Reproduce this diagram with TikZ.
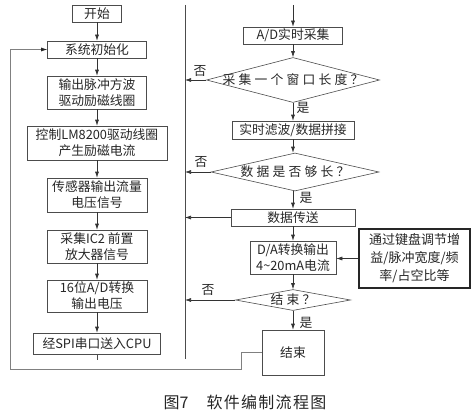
\documentclass[tikz,border=0pt]{standalone}
\usepackage{fontspec}
\newfontfamily\cjk{Noto Sans CJK SC}
\newfontfamily\cjkw{Noto Sans CJK SC}[LetterSpace=25]
\usetikzlibrary{shapes.geometric,arrows.meta}
\begin{document}
\begin{tikzpicture}[x=1pt,y=-1pt,
  font=\cjk\fontsize{12.8}{16}\selectfont,
  box/.style={draw=black!70, line width=0.6pt, rectangle, align=center, inner sep=1pt, text=black!85},
  dia/.style={draw=black!70, line width=0.6pt, diamond, aspect=1, inner sep=0pt, text=black!85},
  arr/.style={draw=black!80, line width=0.6pt, -{Latex[length=6pt,width=4pt]}},
  ln/.style={draw=black!70, line width=0.6pt},
  loopln/.style={draw=black!50, line width=0.6pt, -{Latex[length=6pt,width=4pt,fill=black!85,color=black!85]}},
  lbl/.style={inner sep=0pt, text=black!85}]
\useasboundingbox (0,0) rectangle (473,412);
% left column
\node[box, minimum width=49pt, minimum height=17pt] (start) at (97,13.5) {开始};
\node[box, minimum width=99pt, minimum height=17pt] (init) at (97,49.5) {系统初始化};
\node[box, minimum width=99pt, minimum height=33pt] (pulse) at (97,92.5) {输出脉冲方波\\驱动励磁线圈};
\node[box, minimum width=140pt, minimum height=34pt] (ctrl) at (97,143) {控制LM8200驱动线圈\\产生励磁电流};
\node[box, minimum width=100pt, minimum height=34pt] (sens) at (97,195) {传感器输出流量\\电压信号};
\node[box, minimum width=100pt, minimum height=33pt] (ic2) at (97,246.5) {采集IC2 前置\\放大器信号};
\node[box, minimum width=100pt, minimum height=32pt] (ad16) at (97,296) {16位A/D转换\\输出电压};
\node[box, minimum width=127pt, minimum height=21pt] (spi) at (97,343.5) {经SPI串口送入CPU};
\coordinate (spib) at (97,360);
\foreach \a/\b in {start/init, init/pulse, pulse/ctrl, ctrl/sens, sens/ic2, ic2/ad16, ad16/spi}
  \draw[arr] (\a) -- (\b);
\draw[ln] (spi) -- (spib);
% vertical left line of right part
\coordinate (v1) at (185,5);
\coordinate (v2) at (185,359);
\draw[ln] (v1) -- (v2);
% right column
\coordinate (t1) at (293,5);
\node[box, minimum width=99pt, minimum height=17pt] (adrt) at (293,35.5) {A/D实时采集};
\node[dia, minimum width=173pt, minimum height=45pt] (d1) at (293,80) {\makebox[0pt]{\cjkw 采集一个窗口长度？}};
\node[box, minimum width=122pt, minimum height=18pt] (filt) at (293,130) {实时滤波/数据拼接};
\node[dia, minimum width=168pt, minimum height=38pt] (d2) at (295,172) {\makebox[0pt]{\cjkw 数据是否够长？}};
\node[box, minimum width=124pt, minimum height=17pt] (send) at (293,217.5) {数据传送};
\node[box, minimum width=86pt, minimum height=33pt] (da) at (293,257.5) {D/A转换输出\\4\textasciitilde20mA电流};
\node[box, line width=1.3pt, draw=black!85, minimum width=111pt, minimum height=59pt, font=\cjk\fontsize{13}{18}\selectfont] (kbd) at (414.5,258.5) {通过键盘调节增\\益/脉冲宽度/频\\率/占空比等};
\node[dia, minimum width=115pt, minimum height=21pt] (d3) at (293,300) {\makebox[0pt]{\cjkw 结束？}};
\node[box, minimum width=62pt, minimum height=45pt] (end) at (293,352.5) {结束};
\draw[arr] (t1) -- (adrt);
\draw[arr] (adrt) -- (d1);
\draw[arr] (d1) -- (filt);
\draw[arr] (filt) -- (filt.south |- d2.north);
\draw[arr] (filt.south |- d2.south) -- (send);
\draw[arr] (send) -- (da);
\draw[arr] (da) -- (d3);
\draw[arr] (d3) -- (end);
\draw[arr] (kbd.west) -- (kbd.west -| da.east);
\draw[arr] (d1.west) -- (d1.west -| v1);
\draw[arr] (d2.west) -- (d2.west -| v1);
\draw[arr] (send.west) -- (send.west -| v1);
\draw[arr] (d3.west) -- (d3.west -| v1);
% labels
\node[lbl] (n1) at (200,71) {否};
\node[lbl] (n2) at (201,162) {否};
\node[lbl] (n3) at (208,290) {否};
\node[lbl] (y1) at (303,108) {是};
\node[lbl] (y2) at (306,198) {是};
\node[lbl] (y3) at (306,323) {是};
% loop back
\coordinate (l1) at (241,352.5);
\coordinate (l2) at (241,369);
\coordinate (l3) at (10,369);
\coordinate (l4) at (10,49.5);
\draw[loopln] (end.west) -- (l1) -- (l2) -- (l3) -- (l4) -- (init.west);
% caption
\node[lbl, font=\cjk\fontsize{16}{18}\selectfont] (cap) at (245,402) {图7\hspace{18pt}{\addfontfeatures{LetterSpace=8}软件编制流程图}};
\end{tikzpicture}
\end{document}
